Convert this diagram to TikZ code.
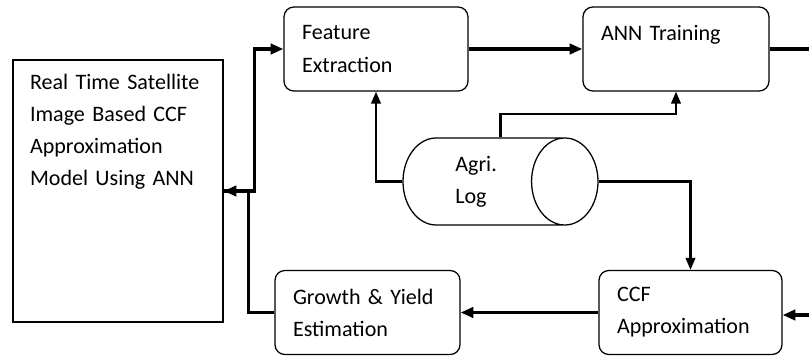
\documentclass[tikz,border=0pt]{standalone}
\usepackage{fontspec}
\setmainfont{Carlito}
\usetikzlibrary{arrows.meta, positioning, shapes.geometric}

\begin{document}
\begin{tikzpicture}[
  font=\fontsize{15.7}{22.8}\selectfont,
  stage/.style={
    draw, rounded corners=7pt, line width=0.9pt,
    align=left, inner xsep=0.45cm, inner ysep=0.2cm,
    minimum height=2.1cm
  },
  arrow/.style={-{Triangle[length=3.2mm, width=2.6mm]}, line width=2.2pt},
  thinarrow/.style={-{Triangle[length=3mm, width=2.4mm]}, line width=1.5pt},
]
  \useasboundingbox (0,0) rectangle (20.225,-8.95);

  % Model box on the left, text kept at the top
  \node[draw, line width=0.9pt, align=left, text width=4.4cm,
        inner xsep=0.425cm, text height=0.62cm, text depth=5.7cm] (model) at (2.95,-4.775)
    {Real Time Satellite\\Image Based CCF\\Approximation\\Model Using ANN};

  % Processing stages
  \node[stage, text width=3.7cm] (feat) at (9.4,-1.225) {Feature\\Extraction};
  \node[stage, text width=3.75cm] (ann) at (16.9,-1.225) {ANN Training\\\mbox{}};
  \node[stage, text width=3.725cm] (growth) at (9.1875,-7.8125) {Growth \& Yield\\Estimation};
  \node[stage, text width=3.675cm] (ccf) at (17.2625,-7.8125) {CCF\\Approximation};

  % Data store
  \node[cylinder, draw, line width=0.9pt, shape aspect=1.1, align=left,
        minimum width=2.175cm, minimum height=4.875cm, anchor=shape center] (log)
    at (12.5125,-4.5375) {Agri.\\Log};

  % Main flow
  \coordinate (annout) at (20.225,-1.225);
  \coordinate (ccfin) at (20.225,-7.875);
  \draw[arrow] (feat) -- (ann);
  \draw[line width=2.2pt] (ann.east) -- (annout);
  \draw[arrow] (ccfin) -- (ccf.east |- ccfin);
  \draw[arrow] (ccf) -- (growth);
  \draw[arrow] (growth.west) -| ([xshift=0.625cm]model.east) -- (model.east);
  \draw[arrow] (model.east) -| ([xshift=-0.725cm]feat.west) -- (feat.west);

  % Feeds from the log
  \draw[thinarrow] (log.west) -| (feat.south);
  \draw[thinarrow] (log.north -| log.shape center) -- ++(0,0.575) -| (ann.south);
  \draw[thinarrow] (log.east) -| (ccf.north);
\end{tikzpicture}
\end{document}
